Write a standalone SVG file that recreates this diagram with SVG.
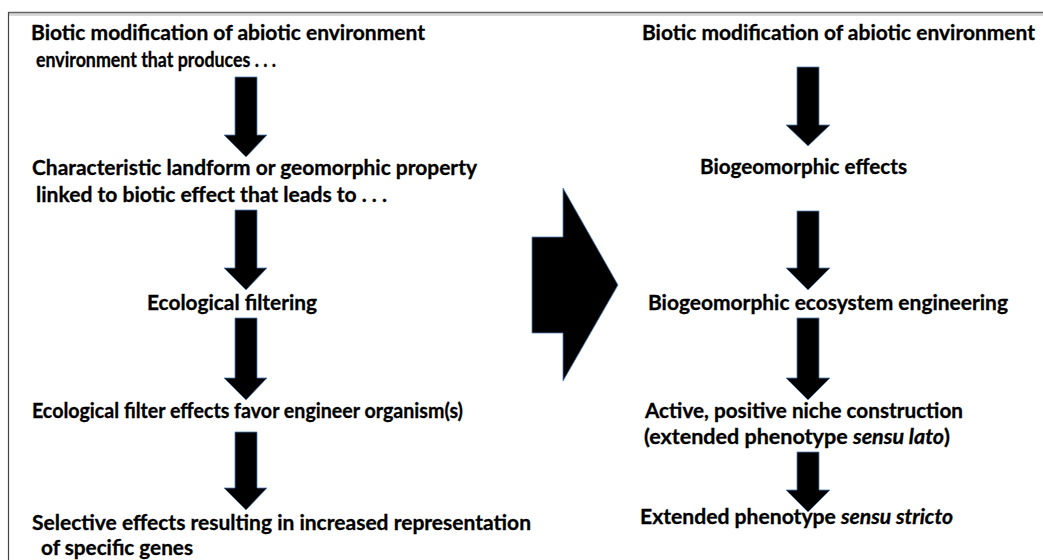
<svg xmlns="http://www.w3.org/2000/svg" width="1043" height="560" viewBox="0 0 1043 560">
<style>
.t{font-family:Lato,"Liberation Sans",sans-serif;font-weight:bold;font-size:20px;fill:#000;stroke:#000;stroke-width:0.3}
.i{font-style:italic}
.arr{fill:#000;stroke:#4f7fb8;stroke-width:0.8;stroke-linejoin:miter}
</style>
<rect x="0" y="0" width="1043" height="560" fill="#fff"/>
<g id="frame">
<line x1="9" y1="14.5" x2="1043" y2="14.5" stroke="#d8d8d8" stroke-width="3"/>
<line x1="8.5" y1="12.5" x2="1043" y2="12.5" stroke="#666" stroke-width="1.5"/>
<line x1="8.5" y1="12" x2="8.5" y2="560" stroke="#444" stroke-width="1.2"/>
</g>
<g id="connectors">
<polygon class="arr" points="235,77 257,77 257,135 267,135 246,157 224,135 235,135"/>
<polygon class="arr" points="235,210 257,210 257,268 267,268 246,290 224,268 235,268"/>
<polygon class="arr" points="235,318 257,318 257,378 267,378 246,400 224,378 235,378"/>
<polygon class="arr" points="235,432 257,432 257,488 267,488 246,510 224,488 235,488"/>
<polygon class="arr" points="797,67 819,67 819,125 830,125 808,146 786,125 797,125"/>
<polygon class="arr" points="797,211 819,211 819,268 830,268 808,290 786,268 797,268"/>
<polygon class="arr" points="797,318 819,318 819,378 830,378 808,400 786,378 797,378"/>
<polygon class="arr" points="797,452 819,452 819,490 830,490 808,512 786,490 797,490"/>
<polygon class="arr" points="532,237 563,237 563,188 618,285 563,381 563,333 532,333"/>
</g>
<g id="n1"><text class="t" x="31" y="40" textLength="394" lengthAdjust="spacingAndGlyphs">Biotic modification of abiotic environment</text>
<text class="t" x="36" y="67" textLength="240" lengthAdjust="spacingAndGlyphs">environment that produces . . .</text></g>
<g id="n2"><text class="t" x="32" y="175" textLength="445" lengthAdjust="spacingAndGlyphs">Characteristic landform or geomorphic property</text>
<text class="t" x="36" y="202" textLength="351" lengthAdjust="spacingAndGlyphs">linked to biotic effect that leads to . . .</text></g>
<g id="n3"><text class="t" x="147" y="310" textLength="170" lengthAdjust="spacingAndGlyphs">Ecological filtering</text></g>
<g id="n4"><text class="t" x="32" y="418" textLength="431" lengthAdjust="spacingAndGlyphs">Ecological filter effects favor engineer organism(s)</text></g>
<g id="n5"><text class="t" x="32" y="530" textLength="499" lengthAdjust="spacingAndGlyphs">Selective effects resulting in increased representation</text>
<text class="t" x="41" y="555" textLength="152" lengthAdjust="spacingAndGlyphs">of specific genes</text></g>
<g id="r1"><text class="t" x="642" y="40" textLength="393" lengthAdjust="spacingAndGlyphs">Biotic modification of abiotic environment</text></g>
<g id="r2"><text class="t" x="700" y="174" textLength="207" lengthAdjust="spacingAndGlyphs">Biogeomorphic effects</text></g>
<g id="r3"><text class="t" x="648" y="310" textLength="360" lengthAdjust="spacingAndGlyphs">Biogeomorphic ecosystem engineering</text></g>
<g id="r4"><text class="t" x="645" y="418" textLength="318" lengthAdjust="spacingAndGlyphs">Active, positive niche construction</text>
<text class="t" x="644" y="444" textLength="306" lengthAdjust="spacingAndGlyphs">(extended phenotype <tspan class="i">sensu lato</tspan>)</text></g>
<g id="r5"><text class="t" x="640" y="524" textLength="313" lengthAdjust="spacingAndGlyphs">Extended phenotype <tspan class="i">sensu stricto</tspan></text></g>
</svg>
